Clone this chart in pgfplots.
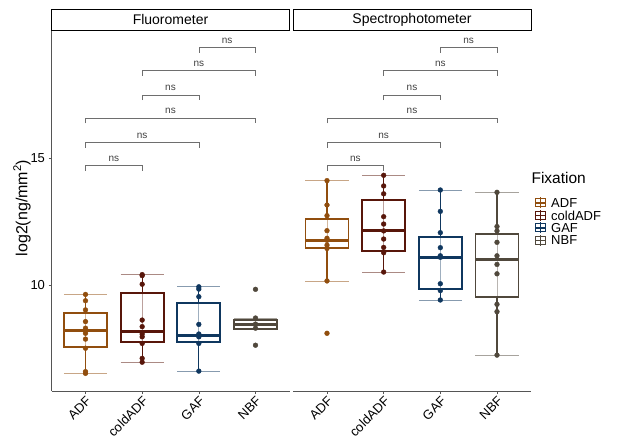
\documentclass[border=0pt]{standalone}
\usepackage{pgfplots}
\pgfplotsset{compat=1.18}
\usepackage{fontspec}
\setmainfont{Liberation Sans}
\definecolor{cADF}{RGB}{145,78,14}
\definecolor{cCOLD}{RGB}{88,22,10}
\definecolor{cGAF}{RGB}{15,55,95}
\definecolor{cNBF}{RGB}{80,72,60}
\definecolor{axgray}{RGB}{85,85,85}
\definecolor{brk}{RGB}{110,110,110}
\pgfplotsset{
  panel/.style={
    scale only axis, width=238pt, height=361pt,
    xmin=0.4, xmax=4.6, ymin=5.827, ymax=20.04,
    clip=false,
    xtick={1,2,3,4}, xticklabels={ADF,coldADF,GAF,NBF},
    ytick={10,15},
    tick align=outside, major tick length=3pt,
    every tick/.style={axgray, line width=0.6pt},
    axis line style={axgray, line width=0.8pt},
    xticklabel style={rotate=45, anchor=north east, font=\fontsize{13}{13}\selectfont, inner sep=1pt},
    yticklabel style={font=\fontsize{13}{13}\selectfont},
    /pgf/number format/assume math mode=true,
  },
  cap/.style={opacity=0.5, line width=0.8pt},
  inner/.style={opacity=0.4, line width=0.7pt},
  pts/.style={only marks, mark=*, mark size=2.4pt},
  br/.style={brk, line width=0.6pt},
}
% #1 colour, #2 left, #3 centre, #4 right, #5 lower whisker, #6 Q1, #7 median, #8 Q3, #9 upper whisker
\newcommand{\bx}[9]{%
  \addplot[#1, line width=1.3pt] coordinates {(#3,#5) (#3,#6)};
  \addplot[#1, line width=1.3pt] coordinates {(#3,#8) (#3,#9)};
  \addplot[#1, fill=white, line width=1.9pt, line cap=rect, line join=miter] coordinates {(#2,#6) (#4,#6) (#4,#8) (#2,#8) (#2,#6)};
  \addplot[#1, inner] coordinates {(#3,#6) (#3,#8)};
  \addplot[#1, line width=3pt] coordinates {(#2,#7) (#4,#7)};
  \addplot[#1, cap] coordinates {(#2,#5) (#4,#5)};
  \addplot[#1, cap] coordinates {(#2,#9) (#4,#9)};
}
\newcommand{\nsat}[2]{\node[anchor=base, font=\fontsize{10}{10}\selectfont, text=black!75, inner sep=0pt] at (axis cs:#1,#2) [yshift=4.5pt] {ns};}
\newcommand{\brackets}{%
  \addplot[br] coordinates {(3,19.14) (3,19.34) (4,19.34) (4,19.14)}; \nsat{3.5}{19.34}
  \addplot[br] coordinates {(2,18.24) (2,18.44) (4,18.44) (4,18.24)}; \nsat{3}{18.44}
  \addplot[br] coordinates {(2,17.28) (2,17.48) (3,17.48) (3,17.28)}; \nsat{2.5}{17.48}
  \addplot[br] coordinates {(1,16.36) (1,16.56) (4,16.56) (4,16.36)}; \nsat{2.5}{16.56}
  \addplot[br] coordinates {(1,15.40) (1,15.60) (3,15.60) (3,15.40)}; \nsat{2}{15.60}
  \addplot[br] coordinates {(1,14.50) (1,14.70) (2,14.70) (2,14.50)}; \nsat{1.5}{14.70}
}
\newcommand{\strip}[1]{%
  \draw[black, line width=0.6pt, fill=white] (rel axis cs:0,1) rectangle ([yshift=21pt]rel axis cs:1,1);
  \node[font=\fontsize{14}{14}\selectfont] at ([yshift=10.5pt]rel axis cs:0.5,1) {#1};
}
\begin{document}
\begin{tikzpicture}
\useasboundingbox (0pt,0pt) rectangle (622pt,445pt);
% ---------------- Fluorometer ----------------
\begin{axis}[panel, at={(51.5pt,54pt)}, anchor=south west, axis x line*=bottom, axis y line*=left]
\strip{Fluorometer}
\bx{cADF}{0.62}{1}{1.38}{6.52}{7.57}{8.20}{8.89}{9.63}
\addplot[cADF, pts] coordinates {(1,9.63) (1,9.38) (1,9.02) (1,8.56) (1,8.30) (1,8.20) (1,8.10) (1,7.87) (1,7.51) (1,6.59) (1,6.52)};
\bx{cCOLD}{1.62}{2}{2.38}{6.96}{7.74}{8.15}{9.67}{10.41}
\addplot[cCOLD, pts] coordinates {(2,10.41) (2,10.37) (2,10.03) (2,8.62) (2,8.36) (2,8.07) (2,7.96) (2,7.70) (2,7.11) (2,6.96)};
\bx{cGAF}{2.62}{3}{3.38}{6.61}{7.77}{8.00}{9.28}{9.93}
\addplot[cGAF, pts] coordinates {(3,9.93) (3,9.84) (3,9.54) (3,8.45) (3,8.07) (3,7.96) (3,7.70) (3,6.61)};
\bx{cNBF}{3.62}{4}{4.38}{8.28}{8.28}{8.46}{8.64}{8.70}
\addplot[cNBF, pts] coordinates {(4,9.83) (4,8.70) (4,8.46) (4,8.30) (4,7.63)};
\brackets
\end{axis}
% ---------------- Spectrophotometer ----------------
\begin{axis}[panel, at={(293pt,54pt)}, anchor=south west, axis x line*=bottom, axis y line=none]
\strip{Spectrophotometer}
\bx{cADF}{0.62}{1}{1.38}{10.16}{11.44}{11.76}{12.59}{14.11}
\addplot[cADF, pts] coordinates {(1,14.11) (1,13.15) (1,12.73) (1,12.14) (1,11.84) (1,11.76) (1,11.57) (1,11.44) (1,10.16) (1,8.10)};
\bx{cCOLD}{1.62}{2}{2.38}{10.51}{11.33}{12.13}{13.35}{14.32}
\addplot[cCOLD, pts] coordinates {(2,14.32) (2,13.90) (2,13.59) (2,12.69) (2,12.40) (2,12.13) (2,11.81) (2,11.48) (2,11.27) (2,10.51)};
\bx{cGAF}{2.62}{3}{3.38}{9.41}{9.85}{11.09}{11.90}{13.74}
\addplot[cGAF, pts] coordinates {(3,13.74) (3,12.90) (3,12.06) (3,11.47) (3,11.15) (3,11.09) (3,10.05) (3,9.78) (3,9.41)};
\bx{cNBF}{3.62}{4}{4.38}{7.24}{9.54}{11.01}{12.02}{13.65}
\addplot[cNBF, pts] coordinates {(4,13.65) (4,12.30) (4,12.13) (4,11.68) (4,11.15) (4,10.81) (4,10.44) (4,9.24) (4,8.95) (4,7.24)};
\brackets
\end{axis}
% y label
\node[rotate=90, font=\fontsize{16}{16}\selectfont] at (22pt,237pt) {log2(ng/mm\textsuperscript{2})};
% legend
\node[anchor=west, font=\fontsize{15.5}{15.5}\selectfont] at (528pt,267pt) {Fixation};
\foreach \yy/\cc/\lab in {242/cADF/ADF, 229.5/cCOLD/coldADF, 217/cGAF/GAF, 204.5/cNBF/NBF}{
  \draw[\cc, line width=1pt, fill=white] ({535pt},{(\yy-4)*1pt}) rectangle ({545pt},{(\yy+4)*1pt});
  \draw[\cc, line width=1.2pt] ({535pt},{\yy*1pt}) -- ({545pt},{\yy*1pt});
  \draw[\cc, line width=0.8pt] ({540pt},{(\yy-5.5)*1pt}) -- ({540pt},{(\yy+5.5)*1pt});
  \node[anchor=west, font=\fontsize{13}{13}\selectfont, inner sep=0pt] at ({551pt},{\yy*1pt}) {\lab};
}
\end{tikzpicture}
\end{document}
